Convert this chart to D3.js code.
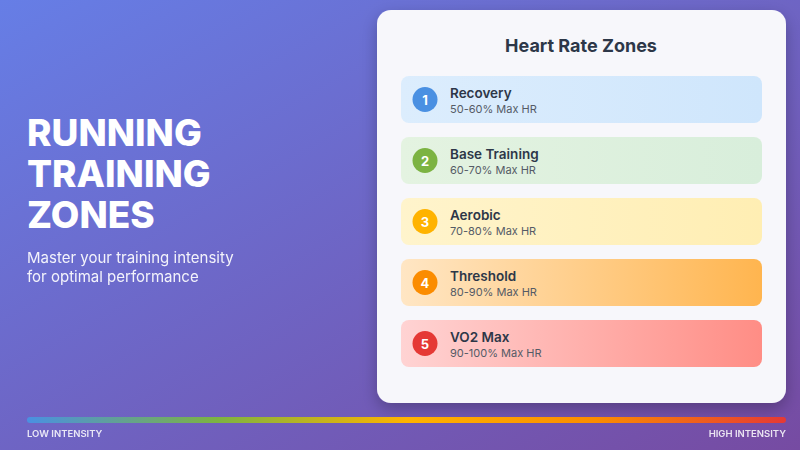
<!DOCTYPE html>
<html><head><meta charset="utf-8">
<script src="https://cdn.jsdelivr.net/npm/d3@7"></script>
<style>body{margin:0}svg{display:block;font-family:Inter,"Noto Sans",sans-serif}</style>
</head><body>
<script>
var zoneNames = ["Recovery", "Base Training", "Aerobic", "Threshold", "VO2 Max"];
var zoneRanges = ["50-60% Max HR", "60-70% Max HR", "70-80% Max HR", "80-90% Max HR", "90-100% Max HR"];
var zoneNums = [1, 2, 3, 4, 5];
var dotColors = ["#4a90e2", "#7cb342", "#ffb300", "#fb8c00", "#e53935"];
var rowFrom = ["#dcedfd", "#e4f3e1", "#fff4cc", "#ffe6c4", "#ffd3d3"];
var rowTo = ["#cfe6fc", "#d8eedb", "#ffeeb3", "#ffb54f", "#ff8d85"];

var w = 800, h = 450;
var svg = d3.select("body").append("svg").attr("width", w).attr("height", h);
var defs = svg.append("defs");

var bg = defs.append("linearGradient").attr("id", "bg").attr("x1", 0).attr("y1", 0).attr("x2", 1).attr("y2", 1);
bg.append("stop").attr("offset", 0).attr("stop-color", "#667ee6");
bg.append("stop").attr("offset", 1).attr("stop-color", "#764ba2");
svg.append("rect").attr("width", w).attr("height", h).attr("fill", "url(#bg)");

var sh = defs.append("filter").attr("id", "sh").attr("x", "-20%").attr("y", "-20%").attr("width", "140%").attr("height", "140%");
sh.append("feDropShadow").attr("dx", 0).attr("dy", 6).attr("stdDeviation", 8).attr("flood-color", "#000").attr("flood-opacity", 0.25);

// left text
var lt = svg.append("g").attr("fill", "#fff");
["RUNNING", "TRAINING", "ZONES"].forEach(function(t, i) {
  lt.append("text").attr("x", 27).attr("y", 146 + i * 41).attr("font-size", 37).attr("font-weight", 800).text(t);
});
["Master your training intensity", "for optimal performance"].forEach(function(t, i) {
  lt.append("text").attr("x", 27).attr("y", 263 + i * 19).attr("font-size", 15).attr("opacity", 0.92).text(t);
});

// card
svg.append("rect").attr("x", 377).attr("y", 10).attr("width", 409).attr("height", 393).attr("rx", 14)
  .attr("fill", "#f7f7fb").attr("filter", "url(#sh)");
svg.append("text").attr("x", 581).attr("y", 52).attr("text-anchor", "middle").attr("font-size", 18)
  .attr("font-weight", 700).attr("fill", "#2d3748").text("Heart Rate Zones");

var y = d3.scaleBand().domain(zoneNums).range([76, 76 + 61 * 5 - 14]).paddingInner(14 / 61);

zoneNums.forEach(function(n, i) {
  var g = defs.append("linearGradient").attr("id", "rg" + i);
  g.append("stop").attr("offset", 0).attr("stop-color", rowFrom[i]);
  g.append("stop").attr("offset", 1).attr("stop-color", rowTo[i]);
});

var rows = svg.selectAll("g.row").data(zoneNums).enter().append("g").attr("class", "row")
  .attr("transform", function(d) { return "translate(401," + y(d) + ")"; });
rows.append("rect").attr("width", 361).attr("height", y.bandwidth()).attr("rx", 8)
  .attr("fill", function(d, i) { return "url(#rg" + i + ")"; });
rows.append("circle").attr("cx", 24).attr("cy", y.bandwidth() / 2).attr("r", 12.5)
  .attr("fill", function(d, i) { return dotColors[i]; });
rows.append("text").attr("x", 24).attr("y", y.bandwidth() / 2 + 5).attr("text-anchor", "middle")
  .attr("font-size", 13).attr("font-weight", 700).attr("fill", "#fff").text(function(d) { return d; });
rows.append("text").attr("x", 49).attr("y", 22).attr("font-size", 13.5).attr("font-weight", 600)
  .attr("fill", "#2d3748").text(function(d, i) { return zoneNames[i]; });
rows.append("text").attr("x", 49).attr("y", 37).attr("font-size", 11)
  .attr("fill", "#555b66").text(function(d, i) { return zoneRanges[i]; });

// intensity bar
var ig = defs.append("linearGradient").attr("id", "ig");
dotColors.forEach(function(c, i) {
  ig.append("stop").attr("offset", i / (dotColors.length - 1)).attr("stop-color", c);
});
svg.append("rect").attr("x", 27).attr("y", 417).attr("width", 759).attr("height", 6).attr("rx", 3).attr("fill", "url(#ig)");
svg.append("text").attr("x", 27).attr("y", 437).attr("font-size", 9.5).attr("font-weight", 600)
  .attr("fill", "#fff").attr("opacity", 0.85).text("LOW INTENSITY");
svg.append("text").attr("x", 786).attr("y", 437).attr("text-anchor", "end").attr("font-size", 9.5).attr("font-weight", 600)
  .attr("fill", "#fff").attr("opacity", 0.85).text("HIGH INTENSITY");
</script>
</body></html>
